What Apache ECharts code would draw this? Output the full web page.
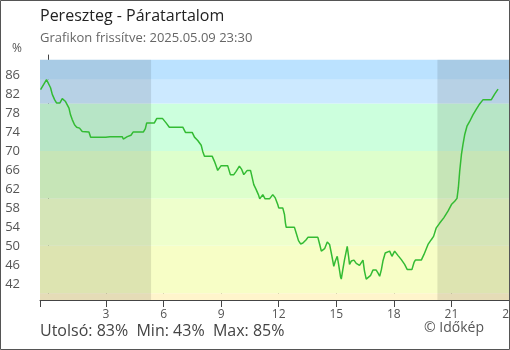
<!DOCTYPE html>
<html>
<head>
<meta charset="utf-8">
<script src="https://cdn.jsdelivr.net/npm/echarts@6/dist/echarts.min.js"></script>
<style>
  html, body { margin: 0; padding: 0; background: #fff; }
  #chart { width: 510px; height: 350px; }
</style>
</head>
<body>
<div id="chart"></div>
<script>
// Relative humidity, Pereszteg – hours since midnight (negative = previous evening)
const times = [-0.41, -0.10, 0.11, 0.20, 0.32, 0.42, 0.60, 0.72, 0.89, 0.98,
  1.07, 1.15, 1.24, 1.36, 1.47, 1.62, 1.76, 2.11, 2.20, 2.98,
  3.07, 3.21, 3.85, 3.90, 4.11, 4.30, 4.42, 4.95, 5.05, 5.12,
  5.52, 5.64, 5.95, 6.13, 6.30, 7.00, 7.14, 7.49, 7.61, 7.78,
  7.96, 8.04, 8.13, 8.53, 8.65, 8.74, 8.82, 9.00, 9.34, 9.48,
  9.66, 9.78, 9.95, 10.07, 10.18, 10.36, 10.53, 10.60, 10.70, 10.82,
  10.94, 11.01, 11.17, 11.29, 11.52, 11.69, 11.82, 11.95, 12.00, 12.21,
  12.30, 12.35, 12.39, 12.82, 12.91, 13.03, 13.14, 13.26, 13.43, 13.52,
  14.04, 14.13, 14.22, 14.39, 14.53, 14.65, 14.74, 14.82, 14.87, 14.95,
  15.05, 15.12, 15.22, 15.26, 15.34, 15.43, 15.52, 15.57, 15.64, 15.69,
  15.78, 15.92, 16.04, 16.21, 16.30, 16.39, 16.47, 16.56, 16.65, 16.79,
  16.91, 17.08, 17.17, 17.26, 17.35, 17.43, 17.55, 17.61, 17.78, 17.90,
  18.04, 18.21, 18.39, 18.56, 18.70, 18.94, 19.05, 19.12, 19.43, 19.57,
  19.78, 19.95, 20.07, 20.21, 20.39, 20.60, 20.82, 21.00, 21.17, 21.29,
  21.36, 21.43, 21.52, 21.60, 21.69, 21.81, 21.95, 22.12, 22.30, 22.47,
  22.65, 23.08, 23.26, 23.43];

const humidity = [82.9, 85, 83.3, 81.9, 80.8, 80.1, 80.1, 81, 80.4, 80.1,
  79, 77.6, 76.6, 75.5, 75, 74.8, 74.1, 74, 72.9, 72.9,
  72.5, 73, 73, 72.5, 73, 73.3, 74, 74, 74.7, 75.9,
  75.9, 76.8, 76.8, 75.9, 75, 75, 73.9, 73.9, 72.9, 72.2,
  71.2, 69.9, 68.9, 68.9, 67.8, 66.8, 65.9, 66.9, 66.9, 65,
  65, 65.7, 66.8, 66.1, 65, 65.9, 65.9, 64.7, 62.9, 61.9,
  60.8, 59.9, 60.8, 59.9, 59.9, 60.8, 60.1, 58.7, 58, 58,
  56.6, 54.8, 53.9, 53.9, 52.7, 51.1, 50.4, 50.6, 51.3, 51.8,
  51.8, 50.4, 48.9, 49.4, 50.8, 50.3, 48.5, 46.8, 45.7, 46.8,
  47.8, 46.1, 43.5, 43, 45, 47.1, 48.9, 49.9, 47.8, 46.1,
  46.8, 47, 46.3, 45.9, 45.9, 47, 44.7, 43, 43.1, 43.8,
  44.9, 44.9, 44.3, 43.6, 45, 46.8, 48.5, 48.9, 48.9, 47.8,
  48.9, 48, 47.1, 46.1, 45, 45, 46.5, 47, 47, 48.2,
  50.3, 51.3, 52, 53.8, 54.8, 55.9, 57.3, 58.7, 59.4, 60,
  62.2, 65.7, 69.2, 71.3, 73.4, 75.2, 76.2, 77.6, 78.8, 79.9,
  80.8, 80.8, 82, 83];

// Axis ticks
const hourTicks = [3, 6, 9, 12, 15, 18, 21, 24];
const percentTicks = [42, 46, 50, 54, 58, 62, 66, 70, 74, 78, 82, 86];

// Humidity class bands (lower, upper) and dark hours
const bandEdges = [38.6, 40, 50, 60, 70, 80, 85, 89.2];
const bandColors = ['#fff5cc', '#f7fec6', '#eeffcc', '#ddffcc', '#ccffdd', '#cce9ff', '#bbe2ff'];
const nightSpans = [[-0.44, 5.35], [20.27, 24]];

const xMin = -0.44, xMax = 24, yMin = 38.6, yMax = 90.2;
const FONT = 'Open Sans';
const axisColor = '#444';

const chart = echarts.init(document.getElementById('chart'), null, { renderer: 'canvas' });

const bandAreas = bandColors.map((c, i) => [
  { yAxis: bandEdges[i], xAxis: xMin, itemStyle: { color: c } },
  { yAxis: bandEdges[i + 1], xAxis: xMax }
]);
const nightAreas = nightSpans.map(s => [
  { xAxis: s[0], yAxis: bandEdges[0] },
  { xAxis: s[1], yAxis: bandEdges[bandEdges.length - 1] }
]);

const baseX = {
  type: 'value', min: xMin, max: xMax, position: 'bottom', offset: 0,
  splitLine: { show: false }
};
const baseY = {
  type: 'value', min: yMin, max: yMax, position: 'left', offset: 0,
  splitLine: { show: false }
};

chart.setOption({
  animation: false,
  backgroundColor: '#fff',
  grid: { left: 40, right: 1, top: 55, bottom: 50, containLabel: false, outerBoundsMode: 'none' },
  xAxis: [
    Object.assign({}, baseX, {
      axisLine: { show: true, lineStyle: { color: axisColor, width: 1 } },
      axisTick: { show: true, inside: false, length: 7, customValues: [xMin].concat(hourTicks), lineStyle: { color: axisColor } },
      axisLabel: { show: true, customValues: hourTicks, color: '#555', fontSize: 12, fontFamily: FONT, margin: 9 }
    }),
    Object.assign({}, baseX, {
      axisLine: { show: false },
      axisTick: { show: true, inside: true, length: 7, customValues: hourTicks, lineStyle: { color: axisColor } },
      axisLabel: { show: false }
    })
  ],
  yAxis: [
    Object.assign({}, baseY, {
      axisLine: { show: true, lineStyle: { color: axisColor, width: 1 } },
      axisTick: { show: true, inside: false, length: 7, customValues: [yMin].concat(percentTicks), lineStyle: { color: axisColor } },
      axisLabel: { show: true, customValues: percentTicks, color: '#555', fontSize: 13, fontFamily: FONT, margin: 20 }
    }),
    Object.assign({}, baseY, {
      axisLine: { show: false },
      axisTick: { show: true, inside: true, length: 6, customValues: percentTicks, lineStyle: { color: axisColor } },
      axisLabel: { show: false }
    })
  ],
  series: [
    {
      name: 'bands', type: 'line', data: [], z: 1, silent: true,
      markArea: { silent: true, data: bandAreas, itemStyle: { borderWidth: 0 } }
    },
    {
      name: 'night', type: 'line', data: [], z: 2, silent: true,
      markArea: { silent: true, data: nightAreas, itemStyle: { color: 'rgba(0,0,0,0.1)', borderWidth: 0 } }
    },
    {
      name: 'Páratartalom', type: 'line', z: 3,
      data: times.map((t, i) => [t, humidity[i]]),
      showSymbol: false, smooth: false,
      lineStyle: { color: '#33bb33', width: 1.5 }
    }
  ],
  graphic: [
    { type: 'text', left: 40, top: 8, style: { text: 'Pereszteg - Páratartalom', fill: '#222', font: '16px "Open Sans"' } },
    { type: 'text', left: 40, top: 32, style: { text: 'Grafikon frissítve: 2025.05.09 23:30', fill: '#666', font: '13px "Open Sans"' } },
    { type: 'text', left: 12, top: 43, style: { text: '%', fill: '#555', font: '12px "Open Sans"' } },
    { type: 'text', left: 40, top: 323, style: { text: 'Utolsó: 83%  Min: 43%  Max: 85%', fill: '#444', font: '16px "Open Sans"' } },
    { type: 'text', left: 424, top: 321, style: { text: '© Időkép', fill: '#555', font: '14px "Open Sans"' } },
    { type: 'rect', shape: { x: 0.5, y: 0.5, width: 509, height: 349 }, style: { fill: 'none', stroke: '#555', lineWidth: 1 }, z: 100 }
  ]
});
</script>
</body>
</html>
